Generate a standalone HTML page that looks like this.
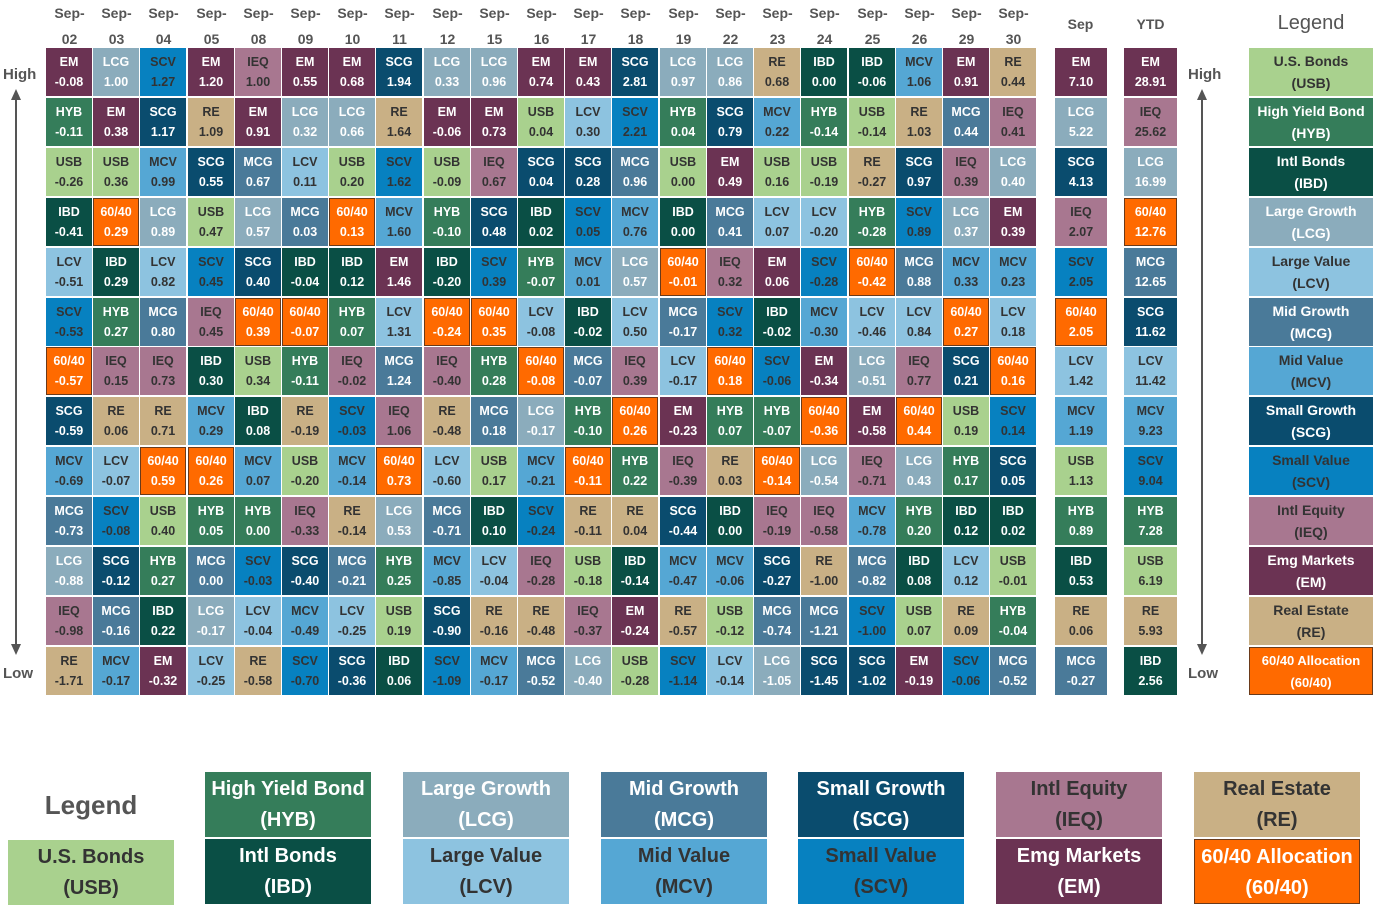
<!DOCTYPE html><html><head><meta charset="utf-8"><style>
body{margin:0;width:1374px;height:919px;background:#fff;position:relative;overflow:hidden;font-family:"Liberation Sans",Arial,sans-serif;font-weight:bold}
.col{position:absolute;top:48px;width:46px}
.c{height:48px;margin-bottom:1.92px;box-sizing:border-box;text-align:center;font-size:12.5px;line-height:20px;padding-top:4px;color:#fff}
.h{position:absolute;top:0;width:47px;text-align:center;font-size:14px;color:#555;line-height:26px}
.EM{background:#6b3353}.HYB{background:#357d5a}.USB{background:#a9d18e}.IBD{background:#0a4f45}
.LCG{background:#8bacbc}.LCV{background:#8dc3e0}.MCG{background:#4a7a99}.MCV{background:#55a7d4}
.SCG{background:#0a4c6e}.SCV{background:#0781c0}.IEQ{background:#a87790}.RE{background:#c9b085}
.USB,.LCV,.MCV,.SCV,.IEQ,.RE{color:#333!important}
.F{background:#ff6a00;border:1px solid #6a3a1a;padding-top:3px}
.t{position:absolute;color:#555;font-size:15px}
.lg{position:absolute;left:1249px;top:48px;width:124px}
.lg .c{font-size:14px;line-height:22px;padding-top:2px}
.bl{position:absolute;width:166px;height:65px;box-sizing:border-box;text-align:center;font-size:20px;line-height:31px;padding-top:2px;color:#fff}
</style></head><body>
<div class="h" style="left:46px">Sep-<br>02</div><div class="h" style="left:93px">Sep-<br>03</div><div class="h" style="left:140px">Sep-<br>04</div><div class="h" style="left:188px">Sep-<br>05</div><div class="h" style="left:235px">Sep-<br>08</div><div class="h" style="left:282px">Sep-<br>09</div><div class="h" style="left:329px">Sep-<br>10</div><div class="h" style="left:376px">Sep-<br>11</div><div class="h" style="left:424px">Sep-<br>12</div><div class="h" style="left:471px">Sep-<br>15</div><div class="h" style="left:518px">Sep-<br>16</div><div class="h" style="left:565px">Sep-<br>17</div><div class="h" style="left:612px">Sep-<br>18</div><div class="h" style="left:660px">Sep-<br>19</div><div class="h" style="left:707px">Sep-<br>22</div><div class="h" style="left:754px">Sep-<br>23</div><div class="h" style="left:801px">Sep-<br>24</div><div class="h" style="left:849px">Sep-<br>25</div><div class="h" style="left:896px">Sep-<br>26</div><div class="h" style="left:943px">Sep-<br>29</div><div class="h" style="left:990px">Sep-<br>30</div>
<div class="h" style="left:1057px;top:11px">Sep</div><div class="h" style="left:1127px;top:11px">YTD</div>
<div class="t" style="left:1249px;top:12px;width:124px;text-align:center;font-size:20px;font-weight:normal">Legend</div>

<div class="col" style="left:46px"><div class="c EM">EM<br>-0.08</div><div class="c HYB">HYB<br>-0.11</div><div class="c USB">USB<br>-0.26</div><div class="c IBD">IBD<br>-0.41</div><div class="c LCV">LCV<br>-0.51</div><div class="c SCV">SCV<br>-0.53</div><div class="c F">60/40<br>-0.57</div><div class="c SCG">SCG<br>-0.59</div><div class="c MCV">MCV<br>-0.69</div><div class="c MCG">MCG<br>-0.73</div><div class="c LCG">LCG<br>-0.88</div><div class="c IEQ">IEQ<br>-0.98</div><div class="c RE">RE<br>-1.71</div></div>
<div class="col" style="left:93px"><div class="c LCG">LCG<br>1.00</div><div class="c EM">EM<br>0.38</div><div class="c USB">USB<br>0.36</div><div class="c F">60/40<br>0.29</div><div class="c IBD">IBD<br>0.29</div><div class="c HYB">HYB<br>0.27</div><div class="c IEQ">IEQ<br>0.15</div><div class="c RE">RE<br>0.06</div><div class="c LCV">LCV<br>-0.07</div><div class="c SCV">SCV<br>-0.08</div><div class="c SCG">SCG<br>-0.12</div><div class="c MCG">MCG<br>-0.16</div><div class="c MCV">MCV<br>-0.17</div></div>
<div class="col" style="left:140px"><div class="c SCV">SCV<br>1.27</div><div class="c SCG">SCG<br>1.17</div><div class="c MCV">MCV<br>0.99</div><div class="c LCG">LCG<br>0.89</div><div class="c LCV">LCV<br>0.82</div><div class="c MCG">MCG<br>0.80</div><div class="c IEQ">IEQ<br>0.73</div><div class="c RE">RE<br>0.71</div><div class="c F">60/40<br>0.59</div><div class="c USB">USB<br>0.40</div><div class="c HYB">HYB<br>0.27</div><div class="c IBD">IBD<br>0.22</div><div class="c EM">EM<br>-0.32</div></div>
<div class="col" style="left:188px"><div class="c EM">EM<br>1.20</div><div class="c RE">RE<br>1.09</div><div class="c SCG">SCG<br>0.55</div><div class="c USB">USB<br>0.47</div><div class="c SCV">SCV<br>0.45</div><div class="c IEQ">IEQ<br>0.45</div><div class="c IBD">IBD<br>0.30</div><div class="c MCV">MCV<br>0.29</div><div class="c F">60/40<br>0.26</div><div class="c HYB">HYB<br>0.05</div><div class="c MCG">MCG<br>0.00</div><div class="c LCG">LCG<br>-0.17</div><div class="c LCV">LCV<br>-0.25</div></div>
<div class="col" style="left:235px"><div class="c IEQ">IEQ<br>1.00</div><div class="c EM">EM<br>0.91</div><div class="c MCG">MCG<br>0.67</div><div class="c LCG">LCG<br>0.57</div><div class="c SCG">SCG<br>0.40</div><div class="c F">60/40<br>0.39</div><div class="c USB">USB<br>0.34</div><div class="c IBD">IBD<br>0.08</div><div class="c MCV">MCV<br>0.07</div><div class="c HYB">HYB<br>0.00</div><div class="c SCV">SCV<br>-0.03</div><div class="c LCV">LCV<br>-0.04</div><div class="c RE">RE<br>-0.58</div></div>
<div class="col" style="left:282px"><div class="c EM">EM<br>0.55</div><div class="c LCG">LCG<br>0.32</div><div class="c LCV">LCV<br>0.11</div><div class="c MCG">MCG<br>0.03</div><div class="c IBD">IBD<br>-0.04</div><div class="c F">60/40<br>-0.07</div><div class="c HYB">HYB<br>-0.11</div><div class="c RE">RE<br>-0.19</div><div class="c USB">USB<br>-0.20</div><div class="c IEQ">IEQ<br>-0.33</div><div class="c SCG">SCG<br>-0.40</div><div class="c MCV">MCV<br>-0.49</div><div class="c SCV">SCV<br>-0.70</div></div>
<div class="col" style="left:329px"><div class="c EM">EM<br>0.68</div><div class="c LCG">LCG<br>0.66</div><div class="c USB">USB<br>0.20</div><div class="c F">60/40<br>0.13</div><div class="c IBD">IBD<br>0.12</div><div class="c HYB">HYB<br>0.07</div><div class="c IEQ">IEQ<br>-0.02</div><div class="c SCV">SCV<br>-0.03</div><div class="c MCV">MCV<br>-0.14</div><div class="c RE">RE<br>-0.14</div><div class="c MCG">MCG<br>-0.21</div><div class="c LCV">LCV<br>-0.25</div><div class="c SCG">SCG<br>-0.36</div></div>
<div class="col" style="left:376px"><div class="c SCG">SCG<br>1.94</div><div class="c RE">RE<br>1.64</div><div class="c SCV">SCV<br>1.62</div><div class="c MCV">MCV<br>1.60</div><div class="c EM">EM<br>1.46</div><div class="c LCV">LCV<br>1.31</div><div class="c MCG">MCG<br>1.24</div><div class="c IEQ">IEQ<br>1.06</div><div class="c F">60/40<br>0.73</div><div class="c LCG">LCG<br>0.53</div><div class="c HYB">HYB<br>0.25</div><div class="c USB">USB<br>0.19</div><div class="c IBD">IBD<br>0.06</div></div>
<div class="col" style="left:424px"><div class="c LCG">LCG<br>0.33</div><div class="c EM">EM<br>-0.06</div><div class="c USB">USB<br>-0.09</div><div class="c HYB">HYB<br>-0.10</div><div class="c IBD">IBD<br>-0.20</div><div class="c F">60/40<br>-0.24</div><div class="c IEQ">IEQ<br>-0.40</div><div class="c RE">RE<br>-0.48</div><div class="c LCV">LCV<br>-0.60</div><div class="c MCG">MCG<br>-0.71</div><div class="c MCV">MCV<br>-0.85</div><div class="c SCG">SCG<br>-0.90</div><div class="c SCV">SCV<br>-1.09</div></div>
<div class="col" style="left:471px"><div class="c LCG">LCG<br>0.96</div><div class="c EM">EM<br>0.73</div><div class="c IEQ">IEQ<br>0.67</div><div class="c SCG">SCG<br>0.48</div><div class="c SCV">SCV<br>0.39</div><div class="c F">60/40<br>0.35</div><div class="c HYB">HYB<br>0.28</div><div class="c MCG">MCG<br>0.18</div><div class="c USB">USB<br>0.17</div><div class="c IBD">IBD<br>0.10</div><div class="c LCV">LCV<br>-0.04</div><div class="c RE">RE<br>-0.16</div><div class="c MCV">MCV<br>-0.17</div></div>
<div class="col" style="left:518px"><div class="c EM">EM<br>0.74</div><div class="c USB">USB<br>0.04</div><div class="c SCG">SCG<br>0.04</div><div class="c IBD">IBD<br>0.02</div><div class="c HYB">HYB<br>-0.07</div><div class="c LCV">LCV<br>-0.08</div><div class="c F">60/40<br>-0.08</div><div class="c LCG">LCG<br>-0.17</div><div class="c MCV">MCV<br>-0.21</div><div class="c SCV">SCV<br>-0.24</div><div class="c IEQ">IEQ<br>-0.28</div><div class="c RE">RE<br>-0.48</div><div class="c MCG">MCG<br>-0.52</div></div>
<div class="col" style="left:565px"><div class="c EM">EM<br>0.43</div><div class="c LCV">LCV<br>0.30</div><div class="c SCG">SCG<br>0.28</div><div class="c SCV">SCV<br>0.05</div><div class="c MCV">MCV<br>0.01</div><div class="c IBD">IBD<br>-0.02</div><div class="c MCG">MCG<br>-0.07</div><div class="c HYB">HYB<br>-0.10</div><div class="c F">60/40<br>-0.11</div><div class="c RE">RE<br>-0.11</div><div class="c USB">USB<br>-0.18</div><div class="c IEQ">IEQ<br>-0.37</div><div class="c LCG">LCG<br>-0.40</div></div>
<div class="col" style="left:612px"><div class="c SCG">SCG<br>2.81</div><div class="c SCV">SCV<br>2.21</div><div class="c MCG">MCG<br>0.96</div><div class="c MCV">MCV<br>0.76</div><div class="c LCG">LCG<br>0.57</div><div class="c LCV">LCV<br>0.50</div><div class="c IEQ">IEQ<br>0.39</div><div class="c F">60/40<br>0.26</div><div class="c HYB">HYB<br>0.22</div><div class="c RE">RE<br>0.04</div><div class="c IBD">IBD<br>-0.14</div><div class="c EM">EM<br>-0.24</div><div class="c USB">USB<br>-0.28</div></div>
<div class="col" style="left:660px"><div class="c LCG">LCG<br>0.97</div><div class="c HYB">HYB<br>0.04</div><div class="c USB">USB<br>0.00</div><div class="c IBD">IBD<br>0.00</div><div class="c F">60/40<br>-0.01</div><div class="c MCG">MCG<br>-0.17</div><div class="c LCV">LCV<br>-0.17</div><div class="c EM">EM<br>-0.23</div><div class="c IEQ">IEQ<br>-0.39</div><div class="c SCG">SCG<br>-0.44</div><div class="c MCV">MCV<br>-0.47</div><div class="c RE">RE<br>-0.57</div><div class="c SCV">SCV<br>-1.14</div></div>
<div class="col" style="left:707px"><div class="c LCG">LCG<br>0.86</div><div class="c SCG">SCG<br>0.79</div><div class="c EM">EM<br>0.49</div><div class="c MCG">MCG<br>0.41</div><div class="c IEQ">IEQ<br>0.32</div><div class="c SCV">SCV<br>0.32</div><div class="c F">60/40<br>0.18</div><div class="c HYB">HYB<br>0.07</div><div class="c RE">RE<br>0.03</div><div class="c IBD">IBD<br>0.00</div><div class="c MCV">MCV<br>-0.06</div><div class="c USB">USB<br>-0.12</div><div class="c LCV">LCV<br>-0.14</div></div>
<div class="col" style="left:754px"><div class="c RE">RE<br>0.68</div><div class="c MCV">MCV<br>0.22</div><div class="c USB">USB<br>0.16</div><div class="c LCV">LCV<br>0.07</div><div class="c EM">EM<br>0.06</div><div class="c IBD">IBD<br>-0.02</div><div class="c SCV">SCV<br>-0.06</div><div class="c HYB">HYB<br>-0.07</div><div class="c F">60/40<br>-0.14</div><div class="c IEQ">IEQ<br>-0.19</div><div class="c SCG">SCG<br>-0.27</div><div class="c MCG">MCG<br>-0.74</div><div class="c LCG">LCG<br>-1.05</div></div>
<div class="col" style="left:801px"><div class="c IBD">IBD<br>0.00</div><div class="c HYB">HYB<br>-0.14</div><div class="c USB">USB<br>-0.19</div><div class="c LCV">LCV<br>-0.20</div><div class="c SCV">SCV<br>-0.28</div><div class="c MCV">MCV<br>-0.30</div><div class="c EM">EM<br>-0.34</div><div class="c F">60/40<br>-0.36</div><div class="c LCG">LCG<br>-0.54</div><div class="c IEQ">IEQ<br>-0.58</div><div class="c RE">RE<br>-1.00</div><div class="c MCG">MCG<br>-1.21</div><div class="c SCG">SCG<br>-1.45</div></div>
<div class="col" style="left:849px"><div class="c IBD">IBD<br>-0.06</div><div class="c USB">USB<br>-0.14</div><div class="c RE">RE<br>-0.27</div><div class="c HYB">HYB<br>-0.28</div><div class="c F">60/40<br>-0.42</div><div class="c LCV">LCV<br>-0.46</div><div class="c LCG">LCG<br>-0.51</div><div class="c EM">EM<br>-0.58</div><div class="c IEQ">IEQ<br>-0.71</div><div class="c MCV">MCV<br>-0.78</div><div class="c MCG">MCG<br>-0.82</div><div class="c SCV">SCV<br>-1.00</div><div class="c SCG">SCG<br>-1.02</div></div>
<div class="col" style="left:896px"><div class="c MCV">MCV<br>1.06</div><div class="c RE">RE<br>1.03</div><div class="c SCG">SCG<br>0.97</div><div class="c SCV">SCV<br>0.89</div><div class="c MCG">MCG<br>0.88</div><div class="c LCV">LCV<br>0.84</div><div class="c IEQ">IEQ<br>0.77</div><div class="c F">60/40<br>0.44</div><div class="c LCG">LCG<br>0.43</div><div class="c HYB">HYB<br>0.20</div><div class="c IBD">IBD<br>0.08</div><div class="c USB">USB<br>0.07</div><div class="c EM">EM<br>-0.19</div></div>
<div class="col" style="left:943px"><div class="c EM">EM<br>0.91</div><div class="c MCG">MCG<br>0.44</div><div class="c IEQ">IEQ<br>0.39</div><div class="c LCG">LCG<br>0.37</div><div class="c MCV">MCV<br>0.33</div><div class="c F">60/40<br>0.27</div><div class="c SCG">SCG<br>0.21</div><div class="c USB">USB<br>0.19</div><div class="c HYB">HYB<br>0.17</div><div class="c IBD">IBD<br>0.12</div><div class="c LCV">LCV<br>0.12</div><div class="c RE">RE<br>0.09</div><div class="c SCV">SCV<br>-0.06</div></div>
<div class="col" style="left:990px"><div class="c RE">RE<br>0.44</div><div class="c IEQ">IEQ<br>0.41</div><div class="c LCG">LCG<br>0.40</div><div class="c EM">EM<br>0.39</div><div class="c MCV">MCV<br>0.23</div><div class="c LCV">LCV<br>0.18</div><div class="c F">60/40<br>0.16</div><div class="c SCV">SCV<br>0.14</div><div class="c SCG">SCG<br>0.05</div><div class="c IBD">IBD<br>0.02</div><div class="c USB">USB<br>-0.01</div><div class="c HYB">HYB<br>-0.04</div><div class="c MCG">MCG<br>-0.52</div></div>
<div class="col" style="left:1055px;width:52px"><div class="c EM">EM<br>7.10</div><div class="c LCG">LCG<br>5.22</div><div class="c SCG">SCG<br>4.13</div><div class="c IEQ">IEQ<br>2.07</div><div class="c SCV">SCV<br>2.05</div><div class="c F">60/40<br>2.05</div><div class="c LCV">LCV<br>1.42</div><div class="c MCV">MCV<br>1.19</div><div class="c USB">USB<br>1.13</div><div class="c HYB">HYB<br>0.89</div><div class="c IBD">IBD<br>0.53</div><div class="c RE">RE<br>0.06</div><div class="c MCG">MCG<br>-0.27</div></div>
<div class="col" style="left:1124px;width:53px"><div class="c EM">EM<br>28.91</div><div class="c IEQ">IEQ<br>25.62</div><div class="c LCG">LCG<br>16.99</div><div class="c F">60/40<br>12.76</div><div class="c MCG">MCG<br>12.65</div><div class="c SCG">SCG<br>11.62</div><div class="c LCV">LCV<br>11.42</div><div class="c MCV">MCV<br>9.23</div><div class="c SCV">SCV<br>9.04</div><div class="c HYB">HYB<br>7.28</div><div class="c USB">USB<br>6.19</div><div class="c RE">RE<br>5.93</div><div class="c IBD">IBD<br>2.56</div></div>
<div class="lg"><div class="c USB">U.S. Bonds<br>(USB)</div><div class="c HYB">High Yield Bond<br>(HYB)</div><div class="c IBD">Intl Bonds<br>(IBD)</div><div class="c LCG">Large Growth<br>(LCG)</div><div class="c LCV">Large Value<br>(LCV)</div><div class="c MCG">Mid Growth<br>(MCG)</div><div class="c MCV">Mid Value<br>(MCV)</div><div class="c SCG">Small Growth<br>(SCG)</div><div class="c SCV">Small Value<br>(SCV)</div><div class="c IEQ">Intl Equity<br>(IEQ)</div><div class="c EM">Emg Markets<br>(EM)</div><div class="c RE">Real Estate<br>(RE)</div><div class="c F" style="font-size:13px">60/40 Allocation<br>(60/40)</div></div>

<div class="t" style="left:3px;top:66px">High</div><div class="t" style="left:3px;top:665px">Low</div>
<div class="t" style="left:1188px;top:66px">High</div><div class="t" style="left:1188px;top:665px">Low</div>
<svg style="position:absolute;left:0;top:0" width="1374" height="919"><g fill="#555" stroke="#555" stroke-width="2"><line x1="16" y1="98" x2="16" y2="646"/><line x1="1202" y1="98" x2="1202" y2="646"/></g>
<g fill="#555"><polygon points="11,100 16,89 21,100"/><polygon points="11,644 16,655 21,644"/><polygon points="1197,100 1202,89 1207,100"/><polygon points="1197,644 1202,655 1207,644"/></g></svg>

<div class="t" style="left:8px;top:790px;width:166px;text-align:center;font-size:26px">Legend</div>
<div class="bl USB" style="left:8px;top:840px">U.S. Bonds<br>(USB)</div>
<div class="bl HYB" style="left:205px;top:772px">High Yield Bond<br>(HYB)</div><div class="bl IBD" style="left:205px;top:839px">Intl Bonds<br>(IBD)</div>
<div class="bl LCG" style="left:403px;top:772px">Large Growth<br>(LCG)</div><div class="bl LCV" style="left:403px;top:839px">Large Value<br>(LCV)</div>
<div class="bl MCG" style="left:601px;top:772px">Mid Growth<br>(MCG)</div><div class="bl MCV" style="left:601px;top:839px">Mid Value<br>(MCV)</div>
<div class="bl SCG" style="left:798px;top:772px">Small Growth<br>(SCG)</div><div class="bl SCV" style="left:798px;top:839px">Small Value<br>(SCV)</div>
<div class="bl IEQ" style="left:996px;top:772px">Intl Equity<br>(IEQ)</div><div class="bl EM" style="left:996px;top:839px">Emg Markets<br>(EM)</div>
<div class="bl RE" style="left:1194px;top:772px">Real Estate<br>(RE)</div><div class="bl F" style="left:1194px;top:839px">60/40 Allocation<br>(60/40)</div>
</body></html>
